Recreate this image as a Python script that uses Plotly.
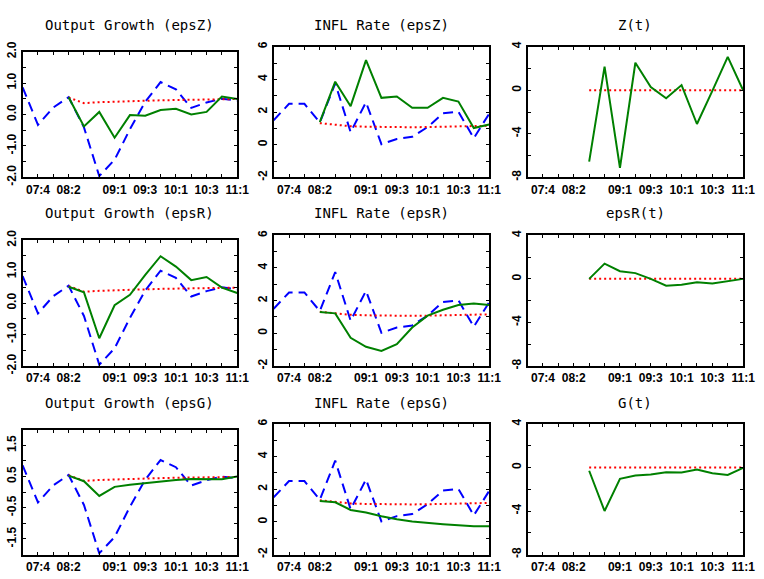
import plotly.graph_objects as go

# ---------------- data ----------------
quarters = ["07:3", "07:4", "08:1", "08:2", "08:3", "08:4", "09:1", "09:2",
            "09:3", "09:4", "10:1", "10:2", "10:3", "10:4", "11:1"]
shown_ticks = ["07:4", "08:2", "09:1", "09:3", "10:1", "10:3", "11:1"]

output_actual = [0.86, -0.33, 0.22, 0.55, -0.41, -1.96, -1.44, -0.47, 0.40,
                 1.03, 0.80, 0.21, 0.38, 0.50, 0.44]
infl_actual = [1.50, 2.50, 2.50, 1.36, 3.75, 0.77, 2.60, 0.03, 0.35, 0.48,
               1.08, 1.92, 2.02, 0.40, 1.90]

# forecasts from 08:2 on
output_base = [0.54, 0.36, 0.39, 0.41, 0.43, 0.44, 0.45, 0.46, 0.47, 0.48, 0.48, 0.49]
infl_base = [1.32, 1.22, 1.13, 1.10, 1.08, 1.07, 1.07, 1.08, 1.10, 1.12, 1.14, 1.16]

output_epsZ = [0.55, -0.38, 0.08, -0.74, -0.02, -0.04, 0.14, 0.18, 0.00, 0.08, 0.57, 0.49]
output_epsR = [0.52, 0.34, -1.12, -0.07, 0.26, 0.90, 1.49, 1.16, 0.73, 0.83, 0.49, 0.32]
output_epsG = [0.53, 0.35, -0.12, 0.17, 0.24, 0.29, 0.36, 0.39, 0.42, 0.42, 0.41, 0.50]

infl_epsZ = [1.38, 3.86, 2.36, 5.18, 2.87, 2.95, 2.26, 2.26, 2.87, 2.64, 1.02, 1.24]
infl_epsR = [1.30, 1.22, -0.28, -0.83, -1.08, -0.67, 0.35, 1.08, 1.44, 1.73, 1.83, 1.73]
infl_epsG = [1.28, 1.20, 0.73, 0.57, 0.35, 0.16, 0.02, -0.08, -0.14, -0.20, -0.26, -0.26]

# shocks from 08:3 on
shock_base = [0.0] * 11
shock_Z = [-6.55, 2.17, -7.14, 2.53, 0.30, -0.74, 0.48, -3.10, -0.06, 3.07, 0.00]
shock_R = [0.00, 1.40, 0.70, 0.53, 0.00, -0.62, -0.53, -0.30, -0.42, -0.18, 0.00]
shock_G = [-0.30, -4.00, -1.04, -0.74, -0.65, -0.44, -0.47, -0.18, -0.53, -0.68, -0.03]

titles = [["Output Growth (epsZ)", "INFL Rate (epsZ)", "Z(t)"],
          ["Output Growth (epsR)", "INFL Rate (epsR)", "epsR(t)"],
          ["Output Growth (epsG)", "INFL Rate (epsG)", "G(t)"]]

# ---------------- layout geometry (pixels) ----------------
W, H = 764, 579
col_x = [(23, 241), (278, 497), (536, 755)]
row_y = [  # (top, bottom) per column
    [(43, 173), (38, 173), (38, 173)],
    [(238, 368), (233, 368), (233, 368)],
    [(434, 563), (428, 563), (428, 563)],
]
title_y = [15, 210, 406]

BLUE, GREEN, RED = "#0000ff", "#008000", "#ff0000"
TICKFONT = dict(family="Liberation Sans", size=12, color="black", weight="bold")

fig = go.Figure()

hist_x = quarters
fc_x = quarters[3:]
sh_x = quarters[4:]

panels = [
    [("out", output_epsZ), ("infl", infl_epsZ), ("shock", shock_Z)],
    [("out", output_epsR), ("infl", infl_epsR), ("shock", shock_R)],
    [("outG", output_epsG), ("infl", infl_epsG), ("shock", shock_G)],
]

def yaxis_spec(kind):
    if kind == "out":
        vals = [-2, -1.5, -1, -0.5, 0, 0.5, 1, 1.5, 2]
        txt = {-2: "-2.0", -1: "-1.0", 0: "0.0", 1: "1.0", 2: "2.0"}
        return [-2, 2], vals, [txt.get(v, "") for v in vals]
    if kind == "outG":
        vals = [-2, -1.5, -1, -0.5, 0, 0.5, 1, 1.5, 2]
        txt = {-1.5: "-1.5", -0.5: "-0.5", 0.5: "0.5", 1.5: "1.5"}
        return [-2, 2], vals, [txt.get(v, "") for v in vals]
    if kind == "infl":
        vals = list(range(-2, 7))
        return [-2, 6], vals, [str(v) if v % 2 == 0 else "" for v in vals]
    vals = list(range(-8, 5, 2))
    return [-8, 4], vals, [str(v) if v % 4 == 0 else "" for v in vals]

n = 0
for r in range(3):
    for c in range(3):
        n += 1
        xa = "x" if n == 1 else f"x{n}"
        ya = "y" if n == 1 else f"y{n}"
        kind, series = panels[r][c]
        if kind in ("out", "outG"):
            fig.add_trace(go.Scatter(x=hist_x, y=output_actual, mode="lines",
                                     line=dict(color=BLUE, width=2, dash="10px,6px"),
                                     xaxis=xa, yaxis=ya, showlegend=False))
            fig.add_trace(go.Scatter(x=fc_x, y=output_base, mode="lines",
                                     line=dict(color=RED, width=2, dash="2px,3px"),
                                     xaxis=xa, yaxis=ya, showlegend=False))
            fig.add_trace(go.Scatter(x=fc_x, y=series, mode="lines",
                                     line=dict(color=GREEN, width=2),
                                     xaxis=xa, yaxis=ya, showlegend=False))
        elif kind == "infl":
            fig.add_trace(go.Scatter(x=hist_x, y=infl_actual, mode="lines",
                                     line=dict(color=BLUE, width=2, dash="10px,6px"),
                                     xaxis=xa, yaxis=ya, showlegend=False))
            fig.add_trace(go.Scatter(x=fc_x, y=infl_base, mode="lines",
                                     line=dict(color=RED, width=2, dash="2px,3px"),
                                     xaxis=xa, yaxis=ya, showlegend=False))
            fig.add_trace(go.Scatter(x=fc_x, y=series, mode="lines",
                                     line=dict(color=GREEN, width=2),
                                     xaxis=xa, yaxis=ya, showlegend=False))
        else:
            fig.add_trace(go.Scatter(x=sh_x, y=shock_base, mode="lines",
                                     line=dict(color=RED, width=2, dash="2px,3px"),
                                     xaxis=xa, yaxis=ya, showlegend=False))
            fig.add_trace(go.Scatter(x=sh_x, y=series, mode="lines",
                                     line=dict(color=GREEN, width=2),
                                     xaxis=xa, yaxis=ya, showlegend=False))

        x0, x1 = col_x[c]
        top, bot = row_y[r][c]
        yr, yvals, ytext = yaxis_spec(kind)
        xkey = "xaxis" if n == 1 else f"xaxis{n}"
        ykey = "yaxis" if n == 1 else f"yaxis{n}"
        fig.layout[xkey] = dict(
            domain=[x0 / W, x1 / W], anchor=ya, type="category",
            categoryorder="array", categoryarray=quarters,
            range=[0, len(quarters) - 1],
            tickvals=quarters,
            ticktext=[q if q in shown_ticks else "" for q in quarters],
            ticks="inside", ticklen=3, tickwidth=1, tickcolor="black",
            showline=True, linewidth=2, linecolor="black", mirror="allticks",
            showgrid=False, zeroline=False, tickfont=TICKFONT, tickangle=0,
            fixedrange=True,
        )
        fig.layout[ykey] = dict(
            domain=[1 - bot / H, 1 - top / H], anchor=xa, range=yr,
            tickvals=yvals, ticktext=ytext,
            ticks="inside", ticklen=3, tickwidth=1, tickcolor="black",
            showline=True, linewidth=2, linecolor="black", mirror="allticks",
            showgrid=False, zeroline=False, tickfont=TICKFONT, tickangle=-90,
            fixedrange=True,
        )
        fig.add_annotation(text=titles[r][c], x=(x0 + x1) / 2 / W, y=1 - title_y[r] / H,
                           xref="paper", yref="paper", xanchor="center", yanchor="middle",
                           showarrow=False,
                           font=dict(family="DejaVu Sans Mono", size=14, color="black"))

fig.update_layout(width=W, height=H, margin=dict(l=0, r=0, t=0, b=0),
                  paper_bgcolor="white", plot_bgcolor="white", showlegend=False)

fig.write_html("out.html")
